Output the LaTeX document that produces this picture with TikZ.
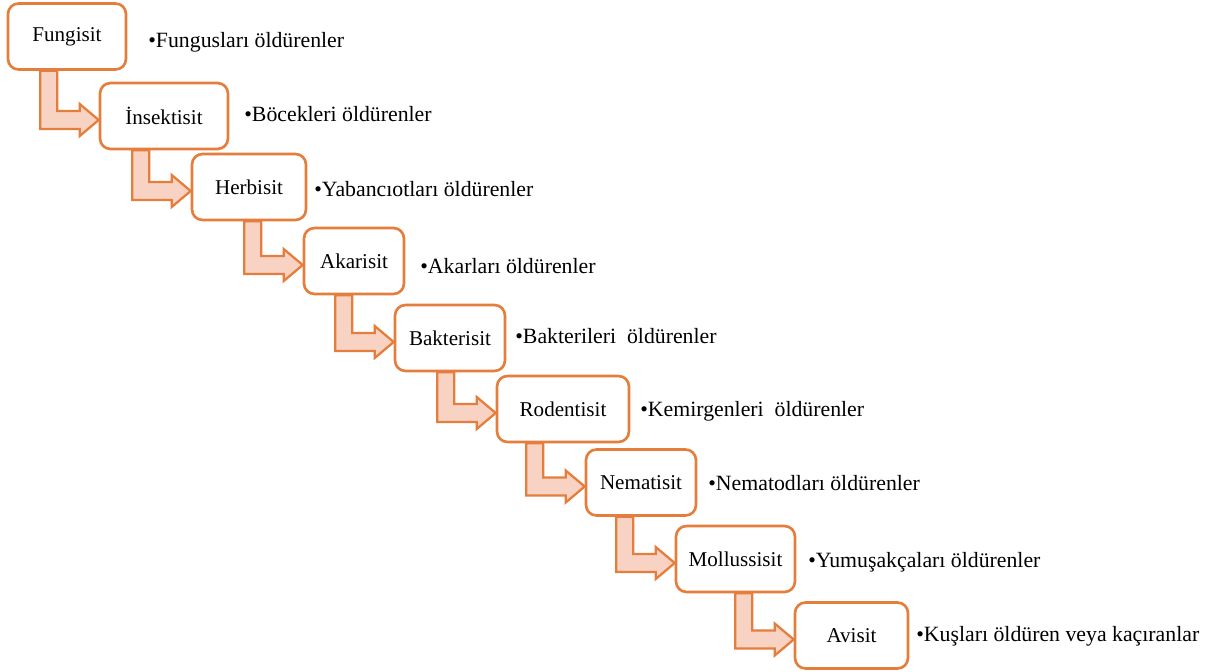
\documentclass[tikz,border=0pt]{standalone}
\usepackage{fontspec}
\setmainfont{Liberation Serif}
\usetikzlibrary{calc}
\definecolor{boxorange}{HTML}{E57E3C}
\definecolor{arrowfill}{HTML}{F8D2C2}
\newcommand{\bendto}[2]{%
	\coordinate (tip) at ($(#2.west)+(0,4)$);
	\coordinate (top) at (tip |- #1.south);
	\draw [bendarrow] ($(top)+(-58.5,0)$) -- ($(top)+(-41.5,0)$) -- ($(tip)+(-41.5,-9)$) -- ($(tip)+(-19,-9)$) -- ($(tip)+(-19,-16)$) -- (tip) -- ($(tip)+(-19,16)$) -- ($(tip)+(-19,9)$) -- ($(tip)+(-58.5,9)$) -- cycle;
}

\begin{document}
\begin{tikzpicture}[x=0.02cm,y=-0.02cm,line join=round,font=\fontsize{12}{14}\selectfont,
	box/.style={draw=boxorange,line width=1.5pt,fill=white,rounded corners=6pt,minimum height=1.32cm,inner sep=0pt},
	note/.style={anchor=west,inner sep=0pt,font=\fontsize{12.4}{14}\selectfont},
	bendarrow/.style={draw=boxorange,line width=1.3pt,fill=arrowfill,line join=miter}]
			\useasboundingbox (0,0) rectangle (1216,672);
			\node [box,minimum width=2.36cm] (fungisit) at (67,36.5) {Fungisit};
			\node [box,minimum width=2.56cm] (insektisit) at (164,116) {İnsektisit};
			\node [box,minimum width=2.28cm] (herbisit) at (249,187) {Herbisit};
			\node [box,minimum width=2.0cm] (akarisit) at (354,261) {Akarisit};
			\node [box,minimum width=2.2cm] (bakterisit) at (450,338) {Bakterisit};
			\node [box,minimum width=2.64cm] (rodentisit) at (563,409) {Rodentisit};
			\node [box,minimum width=2.2cm] (nematisit) at (641,482.5) {Nematisit};
			\node [box,minimum width=2.38cm] (mollussisit) at (735.5,559) {Mollussisit};
			\node [box,minimum width=2.26cm] (avisit) at (851.5,635.5) {Avisit};
			\bendto{fungisit}{insektisit}
			\bendto{insektisit}{herbisit}
			\bendto{herbisit}{akarisit}
			\bendto{akarisit}{bakterisit}
			\bendto{bakterisit}{rodentisit}
			\bendto{rodentisit}{nematisit}
			\bendto{nematisit}{mollussisit}
			\bendto{mollussisit}{avisit}
			\node [note] (fungisitnot) at (148,42) {•Fungusları öldürenler};
			\node [note] (insektisitnot) at (244,114) {•Böcekleri öldürenler};
			\node [note] (herbisitnot) at (314,189) {•Yabancıotları öldürenler};
			\node [note] (akarisitnot) at (420,266) {•Akarları öldürenler};
			\node [note] (bakterisitnot) at (515,336) {•Bakterileri\ \ öldürenler};
			\node [note] (rodentisitnot) at (640,411) {•Kemirgenleri\ \ öldürenler};
			\node [note] (nematisitnot) at (708,483) {•Nematodları öldürenler};
			\node [note] (mollussisitnot) at (808,562) {•Yumuşakçaları öldürenler};
			\node [note] (avisitnot) at (916,636) {•Kuşları öldüren veya kaçıranlar};
\end{tikzpicture}
\end{document}
